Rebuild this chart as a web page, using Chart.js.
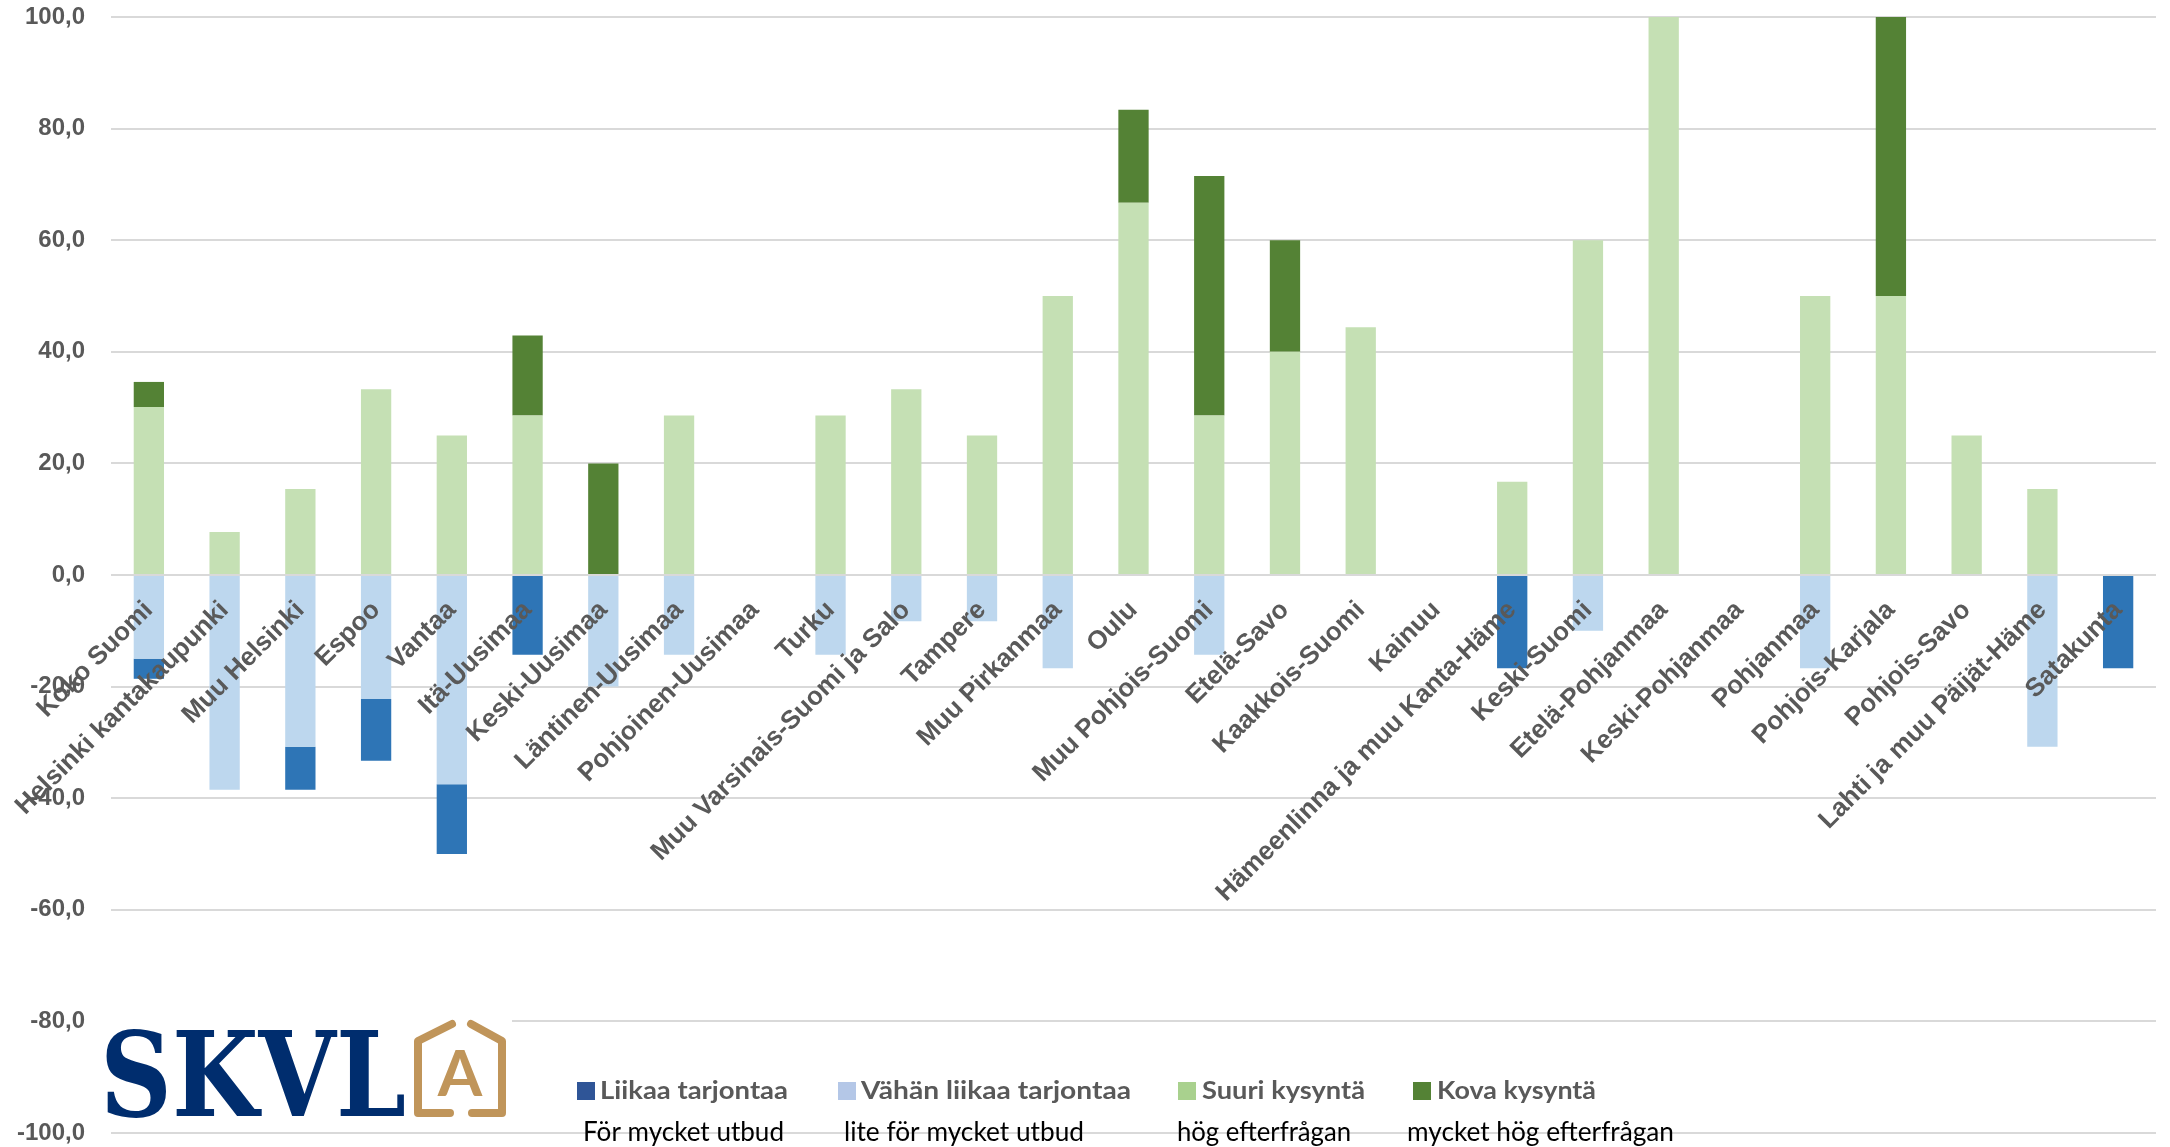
<!DOCTYPE html>
<html>
<head>
<meta charset="utf-8">
<script src="https://cdn.jsdelivr.net/npm/chart.js@4.4.1/dist/chart.umd.min.js"></script>
<style>
  html, body { margin: 0; padding: 0; background: #ffffff; }
  #wrap { position: relative; width: 2170px; height: 1147px; }
  canvas { display: block; }
</style>
</head>
<body>
<div id="wrap"><canvas id="c" width="2170" height="1147"></canvas></div>
<script>
// ---- Data ----
const categories = [
  'Koko Suomi', 'Helsinki kantakaupunki', 'Muu Helsinki', 'Espoo', 'Vantaa',
  'Itä-Uusimaa', 'Keski-Uusimaa', 'Läntinen-Uusimaa', 'Pohjoinen-Uusimaa', 'Turku',
  'Muu Varsinais-Suomi ja Salo', 'Tampere', 'Muu Pirkanmaa', 'Oulu', 'Muu Pohjois-Suomi',
  'Etelä-Savo', 'Kaakkois-Suomi', 'Kainuu', 'Hämeenlinna ja muu Kanta-Häme', 'Keski-Suomi',
  'Etelä-Pohjanmaa', 'Keski-Pohjanmaa', 'Pohjanmaa', 'Pohjois-Karjala', 'Pohjois-Savo',
  'Lahti ja muu Päijät-Häme', 'Satakunta'
];
// Vähän liikaa tarjontaa (light blue)
const vahanLiikaa = [-15.0, -38.5, -30.8, -22.2, -37.5, null, -20.0, -14.3, null, -14.3,
  -8.3, -8.3, -16.7, null, -14.3, null, null, null, null, -10.0,
  null, null, -16.7, null, null, -30.8, null];
// Liikaa tarjontaa (dark blue)
const liikaa = [-3.6, null, -7.7, -11.1, -12.5, -14.3, null, null, null, null,
  null, null, null, null, null, null, null, null, -16.7, null,
  null, null, null, null, null, null, -16.7];
// Suuri kysyntä (light green)
const suuri = [30.1, 7.7, 15.4, 33.3, 25.0, 28.6, null, 28.6, null, 28.6,
  33.3, 25.0, 50.0, 66.7, 28.6, 40.0, 44.4, null, 16.7, 60.0,
  100.0, null, 50.0, 50.0, 25.0, 15.4, null];
// Kova kysyntä (dark green)
const kova = [4.5, null, null, null, null, 14.3, 20.0, null, null, null,
  null, null, null, 16.7, 42.9, 20.0, null, null, null, null,
  null, null, null, 50.0, null, null, null];

const yTicks = [-100, -80, -60, -40, -20, 0, 20, 40, 60, 80, 100];

// Legend texts (Finnish + Swedish)
const legendFi = ['Liikaa tarjontaa', 'Vähän liikaa tarjontaa', 'Suuri kysyntä', 'Kova kysyntä'];
const legendSv = ['För mycket utbud', 'lite för mycket utbud', 'hög efterfrågan', 'mycket hög efterfrågan'];
const legendColors = ['#2f5597', '#b4c7e7', '#a9d18e', '#548235'];

// ---- Styles / layout ----
const C_LIGHTBLUE = '#bdd7ee';
const C_DARKBLUE = '#2e75b6';
const C_LIGHTGREEN = '#c5e0b4';
const C_DARKGREEN = '#548235';
const GRID = '#d9d9d9';
const TXT = '#595959';
const LEG_SQ_X = [577, 838, 1178, 1413];
const LEG_FI_X = [600, 861, 1202, 1437];
const LEG_FI_W = [188, 270, 163, 159];
const LEG_SV_X = [583, 844, 1177, 1407];
const LEG_SV_W = [201, 240, 174, 267];

function drawFitted(ctx, text, x, y, w) {
  const m = ctx.measureText(text).width;
  ctx.save();
  ctx.translate(x, y);
  ctx.scale(w / m, 1);
  ctx.fillText(text, 0, 0);
  ctx.restore();
}

const overlayPlugin = {
  id: 'overlay',
  afterDraw(chart) {
    const ctx = chart.ctx;
    ctx.save();
    // Logo background
    ctx.fillStyle = '#ffffff';
    ctx.fillRect(94, 1008, 418, 119);
    // SKVL text
    ctx.fillStyle = '#002d6e';
    ctx.font = 'bold 118px "DejaVu Serif"';
    ctx.textBaseline = 'alphabetic';
    ctx.textAlign = 'left';
    drawFitted(ctx, 'SKVL', 100, 1116, 306);
    // House shape
    ctx.strokeStyle = '#c0955a';
    ctx.lineWidth = 8;
    ctx.lineCap = 'round';
    ctx.lineJoin = 'round';
    ctx.beginPath();
    ctx.moveTo(452, 1024); ctx.lineTo(418, 1041); ctx.lineTo(418, 1113); ctx.lineTo(450, 1113);
    ctx.moveTo(471, 1024); ctx.lineTo(502, 1041); ctx.lineTo(502, 1113); ctx.lineTo(472, 1113);
    ctx.stroke();
    ctx.fillStyle = '#c0955a';
    ctx.font = 'bold 64px Lato';
    ctx.textAlign = 'center';
    ctx.fillText('A', 460, 1096);

    // Legend
    ctx.textAlign = 'left';
    ctx.textBaseline = 'alphabetic';
    for (let i = 0; i < legendFi.length; i++) {
      ctx.fillStyle = legendColors[i];
      ctx.fillRect(LEG_SQ_X[i], 1082, 18, 18);
      ctx.fillStyle = TXT;
      ctx.font = 'bold 25px Lato';
      drawFitted(ctx, legendFi[i], LEG_FI_X[i], 1099, LEG_FI_W[i]);
      ctx.fillStyle = '#000000';
      ctx.font = '26px Lato';
      drawFitted(ctx, legendSv[i], LEG_SV_X[i], 1141, LEG_SV_W[i]);
    }
    ctx.restore();
  }
};

new Chart(document.getElementById('c'), {
  type: 'bar',
  data: {
    labels: categories,
    datasets: [
      { label: 'Vähän liikaa tarjontaa', data: vahanLiikaa, backgroundColor: C_LIGHTBLUE },
      { label: 'Liikaa tarjontaa', data: liikaa, backgroundColor: C_DARKBLUE },
      { label: 'Suuri kysyntä', data: suuri, backgroundColor: C_LIGHTGREEN },
      { label: 'Kova kysyntä', data: kova, backgroundColor: C_DARKGREEN }
    ]
  },
  options: {
    responsive: false,
    animation: false,
    events: [],
    layout: { padding: { left: 0, right: 14, top: 17, bottom: 14 } },
    datasets: { bar: { barPercentage: 0.4, categoryPercentage: 1.0, borderWidth: 0 } },
    plugins: { legend: { display: false }, tooltip: { enabled: false } },
    scales: {
      x: {
        stacked: true,
        position: { y: 0 },
        afterFit(scale) {
          scale.paddingTop = 0; scale.paddingBottom = 0;
          scale.paddingLeft = 0; scale.paddingRight = 0;
          scale.height = 0;
        },
        grid: { display: false },
        border: { display: false },
        ticks: {
          z: 1,
          autoSkip: false,
          minRotation: 45,
          maxRotation: 45,
          padding: 12,
          color: TXT,
          font: { family: '"Liberation Sans", Arial, sans-serif', size: 26, weight: 'bold' }
        }
      },
      y: {
        stacked: true,
        min: -100,
        max: 100,
        afterBuildTicks(scale) { scale.ticks = yTicks.map(v => ({ value: v })); },
        afterFit(scale) {
          scale.width = 111;
          scale.paddingTop = 0; scale.paddingBottom = 0;
        },
        grid: { color: GRID, lineWidth: 2, drawTicks: false },
        border: { display: false },
        ticks: {
          padding: 26,
          color: TXT,
          font: { family: '"Liberation Sans", Arial, sans-serif', size: 24, weight: 'bold' },
          callback: v => v.toFixed(1).replace('.', ',')
        }
      }
    }
  },
  plugins: [overlayPlugin]
});
</script>
</body>
</html>
